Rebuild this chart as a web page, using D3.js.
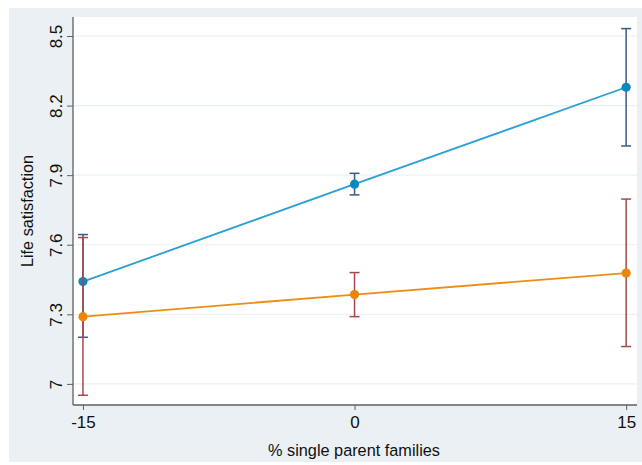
<!DOCTYPE html>
<html>
<head>
<meta charset="utf-8">
<script src="https://cdn.jsdelivr.net/npm/d3@7"></script>
<style>
  html, body { margin: 0; padding: 0; background: #ffffff; }
  svg { display: block; font-family: "Liberation Sans", Arial, Helvetica, sans-serif; }
</style>
</head>
<body>
<svg id="chart" width="642" height="465"></svg>
<script>
// Predicted life satisfaction at three levels of % single parent families
const xValues = [-15, 0, 15];
const xTicks = [-15, 0, 15];
const yTicks = [7, 7.3, 7.6, 7.9, 8.2, 8.5];

// Series A (blue): point estimate with confidence interval
const blueMean = [7.441, 7.861, 8.279];
const blueLow  = [7.201, 7.815, 8.026];
const blueHigh = [7.644, 7.908, 8.532];

// Series B (orange): point estimate with confidence interval
const orangeMean = [7.290, 7.385, 7.478];
const orangeLow  = [6.951, 7.290, 7.161];
const orangeHigh = [7.631, 7.480, 7.797];

const svg = d3.select("#chart");
const W = 642;

// outer panel
svg.append("rect").attr("x", 9).attr("y", 8).attr("width", W - 9).attr("height", 454)
  .attr("fill", "#eaf0f3");

const plot = { left: 73, right: 637, top: 17, bottom: 405 };
svg.append("rect").attr("x", plot.left).attr("y", plot.top)
  .attr("width", plot.right - plot.left).attr("height", plot.bottom - plot.top)
  .attr("fill", "#ffffff");

const x = d3.scaleLinear().domain([-15.55, 15.6]).range([plot.left, plot.right]);
const y = d3.scaleLinear().domain([6.909, 8.582]).range([plot.bottom, plot.top]);

// horizontal grid
svg.append("g").selectAll("line").data(yTicks).join("line")
  .attr("x1", plot.left).attr("x2", plot.right)
  .attr("y1", d => y(d)).attr("y2", d => y(d))
  .attr("stroke", "#eaf1f5").attr("stroke-width", 1.2);

// axes
const yAxis = d3.axisLeft(y).tickValues(yTicks).tickFormat(d3.format("~g")).tickSize(6);
const gy = svg.append("g").attr("transform", `translate(${plot.left},0)`).call(yAxis);
gy.select(".domain").attr("d", `M0,${plot.top}V${plot.bottom}`).attr("stroke", "#5f5f5f").attr("stroke-width", 1.3);
gy.selectAll(".tick line").attr("stroke", "#5f5f5f");
gy.selectAll(".tick text")
  .attr("font-size", 17).attr("fill", "#111")
  .attr("x", 0).attr("y", 0).attr("dy", null)
  .attr("text-anchor", "middle")
  .attr("transform", "translate(-11,0) rotate(-90)");

// hyphen-minus for negative tick labels
const xFmt = d => String(d).replace("\u2212", "-");
const xAxis = d3.axisBottom(x).tickValues(xTicks).tickFormat(xFmt).tickSize(5).tickPadding(6);
const gx = svg.append("g").attr("transform", `translate(0,${plot.bottom})`).call(xAxis);
gx.select(".domain").attr("d", `M${plot.left},0H${plot.right}`).attr("stroke", "#5f5f5f").attr("stroke-width", 1.3);
gx.selectAll(".tick line").attr("stroke", "#5f5f5f");
gx.selectAll(".tick text").attr("font-size", 17).attr("fill", "#111").attr("dy", "0.71em");

// axis titles
svg.append("text").attr("transform", `translate(33,211) rotate(-90)`)
  .attr("text-anchor", "middle").attr("font-size", 16.3).attr("fill", "#111")
  .text("Life satisfaction");
svg.append("text").attr("x", 354).attr("y", 456)
  .attr("text-anchor", "middle").attr("font-size", 16.3).attr("fill", "#111")
  .text("% single parent families");

function drawSeries(mean, low, high, lineColor, ciColor) {
  const g = svg.append("g");
  const idx = d3.range(mean.length);
  g.append("path").datum(idx)
    .attr("fill", "none").attr("stroke", lineColor).attr("stroke-width", 1.8)
    .attr("d", d3.line().x(i => x(xValues[i])).y(i => y(mean[i])));
  const ci = g.append("g").attr("stroke", ciColor).attr("stroke-width", 1.5).attr("fill", "none");
  ci.selectAll(".v").data(idx).join("line")
    .attr("x1", i => x(xValues[i])).attr("x2", i => x(xValues[i]))
    .attr("y1", i => y(low[i])).attr("y2", i => y(high[i]));
  ci.selectAll(".lo").data(idx).join("line")
    .attr("x1", i => x(xValues[i]) - 5).attr("x2", i => x(xValues[i]) + 5)
    .attr("y1", i => y(low[i])).attr("y2", i => y(low[i]));
  ci.selectAll(".hi").data(idx).join("line")
    .attr("x1", i => x(xValues[i]) - 5).attr("x2", i => x(xValues[i]) + 5)
    .attr("y1", i => y(high[i])).attr("y2", i => y(high[i]));
  return g;
}

const gb = drawSeries(blueMean, blueLow, blueHigh, "#2a9fd3", "#3c5a84");
const go = drawSeries(orangeMean, orangeLow, orangeHigh, "#ee8d14", "#a8474f");

// point markers drawn last so they sit above lines and intervals
[[gb, blueMean, "#0a88c0"], [go, orangeMean, "#ec8509"]].forEach(([g, mean, col]) => {
  g.selectAll("circle").data(d3.range(mean.length)).join("circle")
    .attr("cx", i => x(xValues[i])).attr("cy", i => y(mean[i]))
    .attr("r", 4.6).attr("fill", col);
});
</script>
</body>
</html>
